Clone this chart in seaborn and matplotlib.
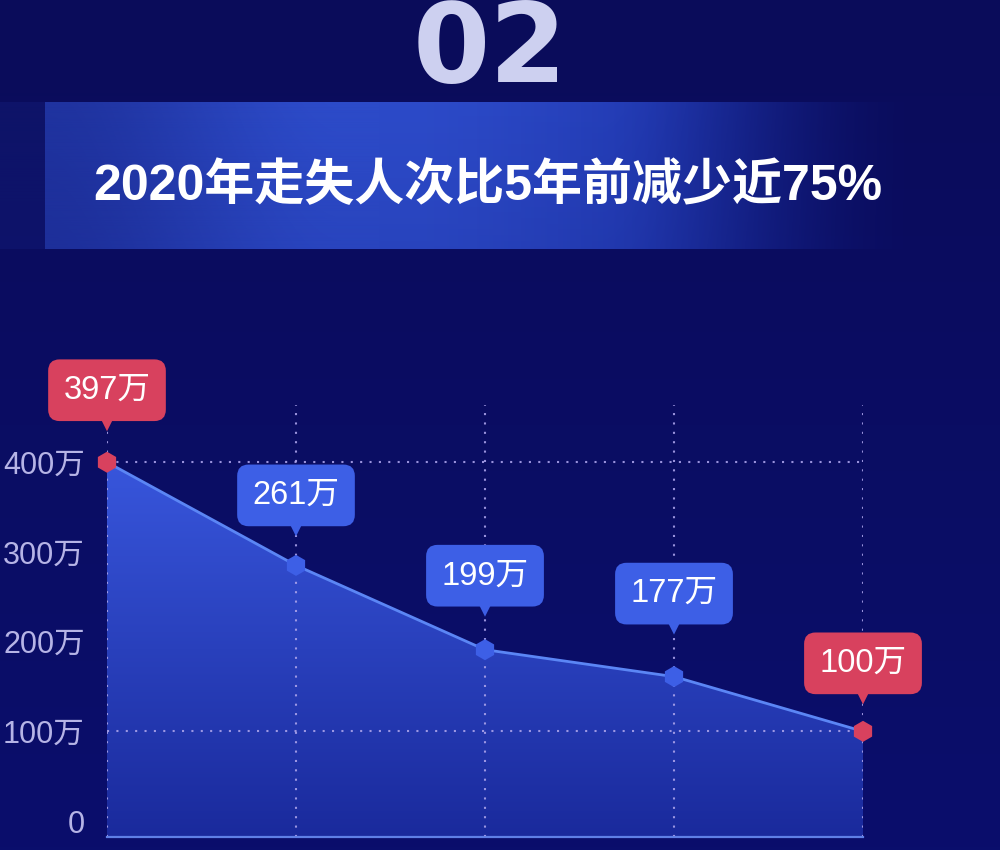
import numpy as np
import pandas as pd
import matplotlib
matplotlib.use("Agg")
import matplotlib.pyplot as plt
import seaborn as sns
from matplotlib import transforms
from matplotlib.colors import to_rgb

# ---------------- data ----------------
categories = ["2016年", "2017年", "2018年", "2019年", "2020年"]
values = [400, 285, 191, 161, 100]          # plotted heights (万)
labels = ["397万", "261万", "199万", "177万", "100万"]
highlight = [True, False, False, False, True]
yticks = [0, 100, 200, 300, 400]
ytick_labels = ["0", "100万", "200万", "300万", "400万"]
title = "2020年走失人次比5年前减少近75%"
section_no = "02"

# ---------------- style ----------------
sns.set_style("dark")
CJK = ["Liberation Sans", "Noto Sans CJK SC", "DejaVu Sans"]
plt.rcParams["font.family"] = CJK
BG_TOP, BG_BOT = "#0a0c5a", "#0a0e6c"
RED, BLUE = "#d8415e", "#3d5fe6"
LINE = "#5b86f5"
GRID = "#aaa2ea"
label_offsets_px = [72, 70, 74, 83, 68]     # box centre above point (pixels)

df = pd.DataFrame({"cat": categories, "x": np.arange(len(categories)), "v": values,
                   "hl": highlight})

fig = plt.figure(figsize=(10, 8.5), dpi=100)

# background canvas in pixel coordinates
bg = fig.add_axes([0, 0, 1, 1])
bg.set_xlim(0, 1000)
bg.set_ylim(850, 0)
bg.axis("off")
t = np.linspace(0, 1, 256)[:, None, None]
grad = (1 - t) * np.array(to_rgb(BG_TOP)) + t * np.array(to_rgb(BG_BOT))
bg.imshow(grad, extent=[0, 1000, 850, 0], aspect="auto", zorder=0)

# banner gradient
W = 1000
xs = np.linspace(0, 1000, W)
def smooth(z):
    z = np.clip(z, 0, 1)
    return z * z * (3 - 2 * z)
alpha = (0.12 + 0.5 * (xs > 45) + 0.38 * smooth((xs - 45) / 300)) * smooth((930 - xs) / 330)
c1, c2 = np.array(to_rgb("#2f4fd0")), np.array(to_rgb("#1a2ea4"))
mix = smooth((xs - 380) / 520)[:, None]
cols = (1 - mix) * c1 + mix * c2
rows = 60
vy = np.linspace(0, 1, rows)[:, None]
banner = np.zeros((rows, W, 4))
banner[..., :3] = cols[None, :, :]
banner[..., 3] = alpha[None, :] * (0.95 - 0.1 * vy)
bg.imshow(banner, extent=[0, 1000, 249, 102], aspect="auto", zorder=1)

bg.text(488, 186, title, ha="center", va="center", fontsize=36, fontweight="bold",
        color="white", family=CJK, zorder=2)
bg.text(490, 82, section_no, ha="center", va="baseline", fontsize=80, fontweight="bold",
        color="#cdd0f0", family="DejaVu Sans", zorder=2)

# ---------------- chart ----------------
ax = fig.add_axes([0.107, 13 / 850, 0.756, 432 / 850])
ax.set_facecolor("none")
ylo, yhi = -17.8, 463.8
ax.set_xlim(0, len(categories) - 1)
ax.set_ylim(ylo, yhi)

# gradient area under the line
poly = ax.fill_between(df["x"], df["v"], ylo, facecolor="none", edgecolor="none")
ag = np.linspace(0, 1, 256)[:, None, None]
top_c, bot_c = np.array(to_rgb("#3856dc")), np.array(to_rgb("#1a2a9c"))
area = (1 - ag) * top_c + ag * bot_c
im = ax.imshow(area, extent=[0, len(categories) - 1, ylo, max(values)], aspect="auto",
               zorder=1, origin="upper")
im.set_clip_path(poly.get_paths()[0], ax.transData)
ax.set_xlim(0, len(categories) - 1)
ax.set_ylim(ylo, yhi)

# dotted grid
dots = (0, (1, 3.5))
ax.vlines(df["x"], ylo, yhi, colors=GRID, linestyles=dots, linewidth=1.5, alpha=0.9, zorder=2)
for yv in (100, 400):
    ax.hlines(yv, 0, len(categories) - 1, colors=GRID, linestyles=dots, linewidth=1.5,
              alpha=0.9, zorder=2)

sns.lineplot(data=df, x="x", y="v", color=LINE, linewidth=2, ax=ax, zorder=3)
sns.scatterplot(data=df, x="x", y="v", hue="hl", palette={True: RED, False: BLUE},
                marker="h", s=230, edgecolor="none", legend=False, ax=ax, zorder=4,
                clip_on=False)

for i, row in df.iterrows():
    fc = RED if row["hl"] else BLUE
    off = label_offsets_px[i]
    ax.annotate(labels[i], (row["x"], row["v"]), xytext=(0, off * 0.72),
                textcoords="offset points", ha="center", va="center", fontsize=23.5,
                color="white", family=CJK, zorder=6, annotation_clip=False,
                bbox=dict(boxstyle="round,pad=0.47,rounding_size=0.35", fc=fc, ec="none"))
    tr = transforms.offset_copy(ax.transData, fig=fig, x=0, y=off - 35, units="dots")
    ax.scatter([row["x"]], [row["v"]], marker="v", s=75, color=fc, edgecolor="none",
               transform=tr, zorder=5, clip_on=False)

ax.set_yticks(yticks)
ax.set_yticklabels(ytick_labels)
ax.set_xticks([])
ax.tick_params(axis="y", length=0, pad=16, labelsize=22, labelcolor="#b6b4e6")
ax.set_xlabel("")
ax.set_ylabel("")
ax.grid(False)
for s in ("top", "right", "left"):
    ax.spines[s].set_visible(False)
ax.spines["bottom"].set_visible(True)
ax.spines["bottom"].set_color("#5f80e6")
ax.spines["bottom"].set_linewidth(1.6)
for lab in ax.get_yticklabels():
    lab.set_family(CJK)

fig.savefig("out.png", dpi=100, facecolor=BG_TOP)
